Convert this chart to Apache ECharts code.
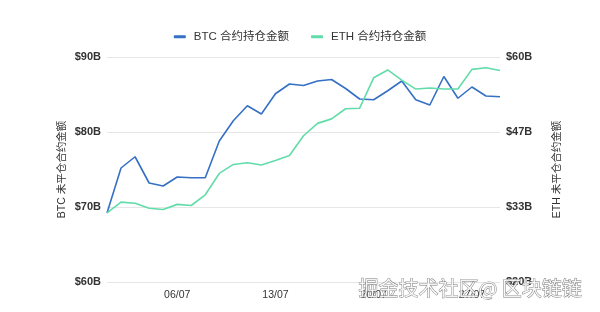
<!DOCTYPE html>
<html><head><meta charset="utf-8">
<script src="https://cdn.jsdelivr.net/npm/echarts@6/dist/echarts.min.js"></script>
<style>html,body{margin:0;padding:0;background:#fff}#c{width:600px;height:312px}</style>
</head><body><div id="c"></div>
<script>
const dates = ['01/07','02/07','03/07','04/07','05/07','06/07','07/07','08/07','09/07','10/07','11/07','12/07','13/07','14/07','15/07','16/07','17/07','18/07','19/07','20/07','21/07','22/07','23/07','24/07','25/07','26/07','27/07','28/07','29/07'];
const btcValues = [69.2,75.2,76.7,73.2,72.8,74.0,73.9,73.9,78.8,81.5,83.5,82.4,85.1,86.4,86.2,86.8,87.0,85.8,84.4,84.3,85.5,86.8,84.3,83.6,87.4,84.5,86.0,84.8,84.7];
const ethValues = [32.3,34.2,34.0,33.1,32.9,33.8,33.6,35.5,39.3,40.9,41.2,40.8,41.6,42.5,46.0,48.2,49.0,50.8,50.9,56.3,57.7,55.9,54.3,54.5,54.3,54.3,57.8,58.1,57.6];
const leftTicks = [60, 90, 10];
const rightTicks = [20, 60];
const seriesNames = ['BTC 合约持仓金额','ETH 合约持仓金额'];
const axisNames = ['BTC 未平仓合约金额','ETH 未平仓合约金额'];
const watermark = '掘金技术社区@ 区块链链';

const chart = echarts.init(document.getElementById('c'));
const fontFamily = '"Liberation Sans", Arial, "Noto Sans CJK SC", sans-serif';
chart.setOption({
  animation: false,
  textStyle: {fontFamily},
  color: ['#3570c4','#62dcaa'],
  legend: {
    top: 26, left: 'center', itemWidth: 12, itemHeight: 3, itemGap: 22,
    icon: 'roundRect',
    textStyle: {fontSize: 11.5, color: '#333', fontFamily, padding: [0, 0, 0, 3]},
    data: seriesNames
  },
  grid: {left: 107, right: 100, top: 57, bottom: 30},
  xAxis: {
    type: 'category', data: dates, boundaryGap: false,
    axisLine: {show: false}, axisTick: {show: false},
    axisLabel: {interval: (i) => i % 7 === 5, color: '#333', fontSize: 10.5, margin: 8, fontFamily}
  },
  yAxis: [
    {
      type: 'value', min: leftTicks[0], max: leftTicks[1], interval: leftTicks[2],
      name: axisNames[0], nameLocation: 'middle', nameGap: 40, nameMoveOverlap: false,
      nameTextStyle: {fontSize: 10.5, color: '#333', fontFamily},
      axisLabel: {formatter: v => '$' + v + 'B', color: '#333', fontSize: 11, fontWeight: 'bold', margin: 6, fontFamily},
      splitLine: {lineStyle: {color: '#e6e6e6'}},
      axisLine: {show: false}, axisTick: {show: false}
    },
    {
      type: 'value', min: rightTicks[0], max: rightTicks[1], interval: (rightTicks[1] - rightTicks[0]) / 3,
      name: axisNames[1], nameLocation: 'middle', nameGap: 52, nameMoveOverlap: false,
      nameTextStyle: {fontSize: 10.5, color: '#333', fontFamily},
      axisLabel: {formatter: v => '$' + Math.round(v) + 'B', color: '#333', fontSize: 11, fontWeight: 'bold', margin: 6, fontFamily},
      splitLine: {show: false},
      axisLine: {show: false}, axisTick: {show: false}
    }
  ],
  series: [
    {name: seriesNames[0], type: 'line', data: btcValues, yAxisIndex: 0, showSymbol: false, lineStyle: {width: 1.6}},
    {name: seriesNames[1], type: 'line', data: ethValues, yAxisIndex: 1, showSymbol: false, lineStyle: {width: 1.6}}
  ],
  graphic: [{
    type: 'text', left: 358, top: 278, z: 100,
    style: {text: watermark, fontSize: 20, fontFamily: '"Noto Sans CJK SC", sans-serif', fill: 'rgba(255,255,255,0.85)', stroke: '#777', lineWidth: 0.8}
  }]
});
</script></body></html>
